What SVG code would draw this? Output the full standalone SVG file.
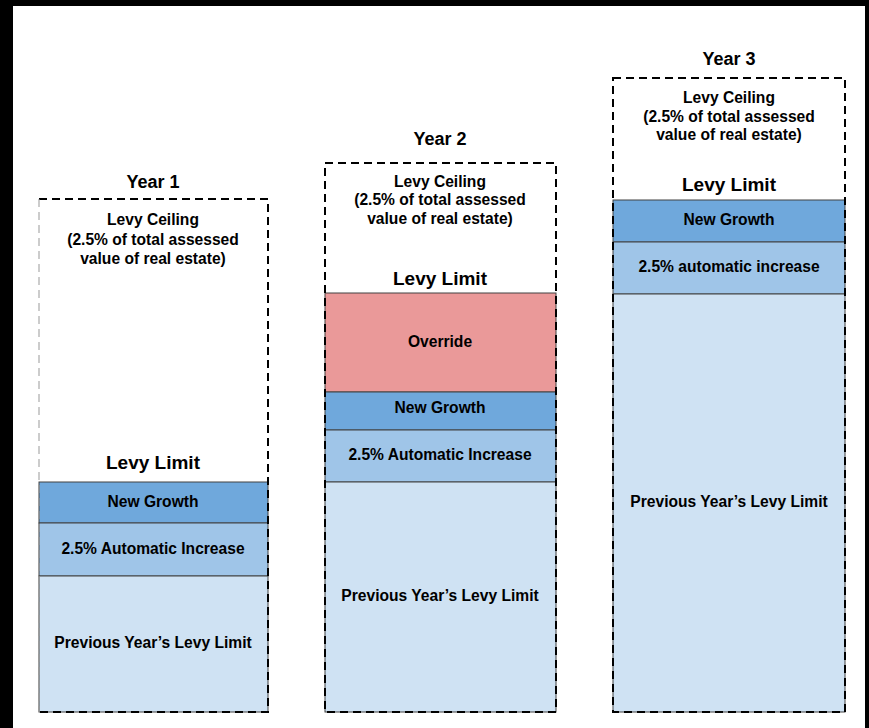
<svg xmlns="http://www.w3.org/2000/svg" width="869" height="728" viewBox="0 0 869 728">
<style>
text{font-family:"Liberation Sans",Arial,sans-serif;font-weight:bold;fill:#000;text-anchor:middle}
.yr{font-size:18px}
.lim{font-size:19px}
.sm{font-size:15.6px}
.dash{fill:none;stroke:#000;stroke-width:2;stroke-dasharray:8 5}
.thin{fill:none;stroke:#999;stroke-width:1;stroke-dasharray:8 5}
.blk{stroke:#434343;stroke-width:1}
.ng{fill:#6fa8dc}.ai{fill:#9fc5e8}.pv{fill:#cfe2f3}.ov{fill:#ea9999}
</style>
<rect x="0" y="0" width="869" height="728" fill="#fff"/>
<rect x="0" y="0" width="869" height="6" fill="#000"/>
<rect x="0" y="0" width="13" height="728" fill="#000"/>
<rect x="865" y="0" width="4" height="728" fill="#000"/>

<g id="year1">
<text class="yr" x="153" y="188">Year 1</text>
<rect class="blk ng" x="39" y="482" width="229" height="41"/>
<rect class="blk ai" x="39" y="523" width="229" height="53"/>
<rect class="blk pv" x="39" y="576" width="229" height="136"/>
<path class="dash" d="M39 199H268V712H39"/>
<path class="thin" d="M39 199V712"/>
<text class="sm" x="153" y="225">Levy Ceiling</text>
<text class="sm" x="153" y="245">(2.5% of total assessed</text>
<text class="sm" x="153" y="264">value of real estate)</text>
<text class="lim" x="153" y="469">Levy Limit</text>
<text class="sm" x="153" y="507">New Growth</text>
<text class="sm" x="153" y="554">2.5% Automatic Increase</text>
<text class="sm" x="153" y="648">Previous Year’s Levy Limit</text>
</g>

<g id="year2">
<text class="yr" x="440" y="145">Year 2</text>
<rect class="blk ov" x="325" y="293" width="231" height="99"/>
<rect class="blk ng" x="325" y="392" width="231" height="38"/>
<rect class="blk ai" x="325" y="430" width="231" height="52"/>
<rect class="blk pv" x="325" y="482" width="231" height="230"/>
<rect class="dash" x="325" y="163" width="231" height="549"/>
<text class="sm" x="440" y="187">Levy Ceiling</text>
<text class="sm" x="440" y="205">(2.5% of total assessed</text>
<text class="sm" x="440" y="224">value of real estate)</text>
<text class="lim" x="440" y="285">Levy Limit</text>
<text class="sm" x="440" y="347">Override</text>
<text class="sm" x="440" y="413">New Growth</text>
<text class="sm" x="440" y="460">2.5% Automatic Increase</text>
<text class="sm" x="440" y="601">Previous Year’s Levy Limit</text>
</g>

<g id="year3">
<text class="yr" x="729" y="65">Year 3</text>
<rect class="blk ng" x="613" y="200" width="232" height="42"/>
<rect class="blk ai" x="613" y="242" width="232" height="52"/>
<rect class="blk pv" x="613" y="294" width="232" height="418"/>
<rect class="dash" x="613" y="78" width="232" height="634"/>
<text class="sm" x="729" y="103">Levy Ceiling</text>
<text class="sm" x="729" y="122">(2.5% of total assessed</text>
<text class="sm" x="729" y="140">value of real estate)</text>
<text class="lim" x="729" y="191">Levy Limit</text>
<text class="sm" x="729" y="225">New Growth</text>
<text class="sm" x="729" y="272">2.5% automatic increase</text>
<text class="sm" x="729" y="507">Previous Year’s Levy Limit</text>
</g>
<g id="connectors"/>
</svg>
